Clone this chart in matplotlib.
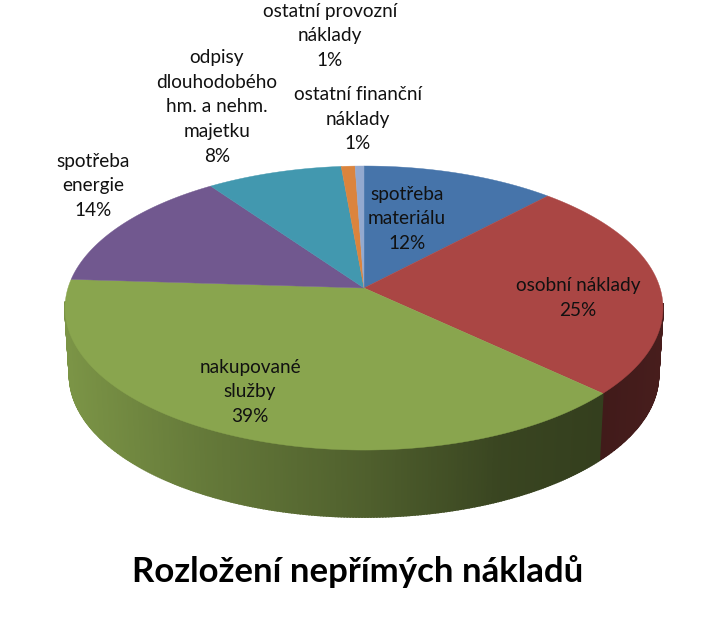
"""Rozlozeni neprimych nakladu - 3D pie."""
import numpy as np
import matplotlib
matplotlib.use("Agg")
import matplotlib.pyplot as plt

names = [
    "spotřeba\nmateriálu",
    "osobní náklady",
    "nakupované\nslužby",
    "spotřeba\nenergie",
    "odpisy\ndlouhodobého\nhm. a nehm.\nmajetku",
    "ostatní provozní\nnáklady",
    "ostatní finanční\nnáklady",
]
# slice sizes, the printed labels are rounded
values = [12.0, 25.0, 39.0, 14.2, 8.4, 0.85, 0.55]
percents = ["12%", "25%", "39%", "14%", "8%", "1%", "1%"]
colors = ["#4674aa", "#aa4644", "#89a54e", "#71588f", "#4298af", "#db843d", "#93a9cf"]
label_x = [407, 578, 250, 93, 217, 330, 358]
label_y = [219, 298, 392, 186, 107, 36, 119]

# pie geometry in pixels
cx, cy = 364, 288
a, b, k = 139.2, 296.0, 0.141
depth, shrink = 67, 0.985

plt.rcParams["font.family"] = ["Lato", "DejaVu Sans"]


def project(theta):
    # theta runs clockwise from the top of the pie
    x, y = np.sin(theta), np.cos(theta)
    d = 1 + k * y
    return cx + b * x / d, cy - a * y / d


def shade(x):
    return np.interp(x, [65, 200, 364, 500, 600, 664], [0.90, 0.74, 0.58, 0.42, 0.38, 0.42])


fig = plt.figure(figsize=(7.14, 6.25), dpi=100)
ax = fig.add_axes([0, 0, 1, 1])
ax.set_xlim(0, 714)
ax.set_ylim(625, 0)
ax.axis("off")

edges = np.cumsum([0] + values) / sum(values) * 2 * np.pi

# side wall first
for i, col in enumerate(colors):
    steps = max(int(np.degrees(edges[i + 1] - edges[i]) * 2), 2)
    t = np.linspace(edges[i], edges[i + 1], steps + 1)
    x, y = project(t)
    x2 = cx + (x - cx) * shrink
    y2 = y + depth
    rgb = np.array(matplotlib.colors.to_rgb(col))
    for j in range(steps):
        # only the front part of the wall can be seen
        if np.cos(t[j]) > -0.1:
            continue
        c = rgb * shade((x[j] + x[j + 1]) / 2)
        ax.fill([x[j], x[j + 1], x2[j + 1], x2[j]], [y[j], y[j + 1], y2[j + 1], y2[j]],
                facecolor=c, edgecolor=c, lw=1.2, zorder=1)

# top face
for i, col in enumerate(colors):
    t = np.linspace(edges[i], edges[i + 1], 200)
    x, y = project(t)
    ax.fill(np.r_[cx, x], np.r_[cy, y], color=col, lw=0.3, zorder=2)

for name, pct, lx, ly in zip(names, percents, label_x, label_y):
    ax.text(lx, ly, f"{name}\n{pct}", ha="center", va="center", fontsize=13.7,
            color="#111111", linespacing=1.57, zorder=3)

ax.text(358, 572, "Rozložení nepřímých nákladů", ha="center", va="center",
        fontsize=25, fontweight="bold", color="black")

fig.savefig("out.png", dpi=100)
